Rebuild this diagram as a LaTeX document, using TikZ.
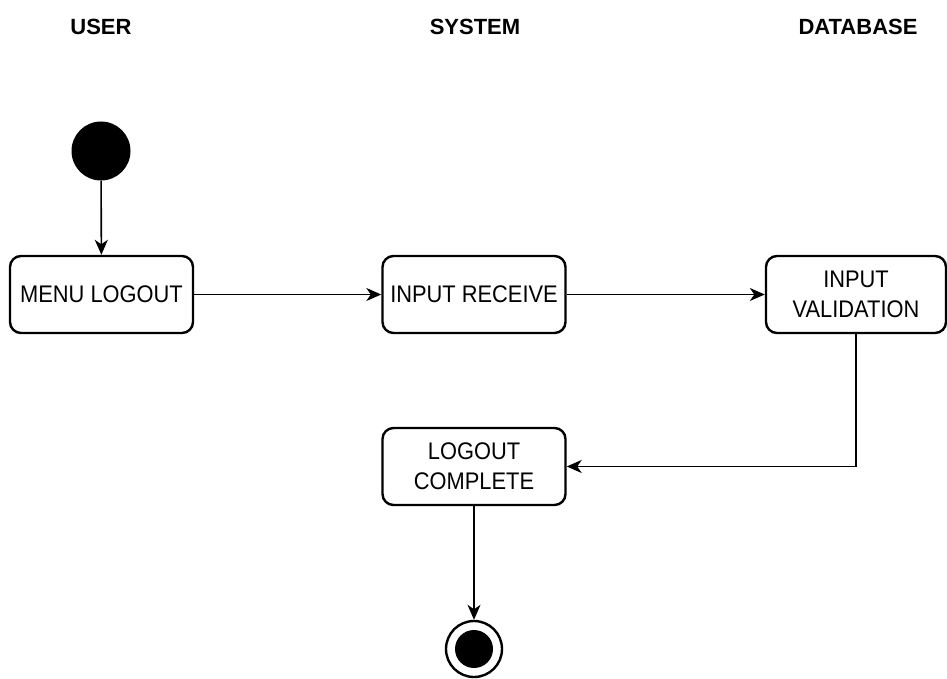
\documentclass[tikz,border=0pt]{standalone}
\usepackage{fontspec}
\setmainfont{Liberation Sans}
\newfontfamily\boxfont{Liberation Sans}[FakeStretch=0.91]
\usetikzlibrary{arrows.meta}

\begin{document}
\begin{tikzpicture}[x=1pt,y=-1pt,
  state/.style={draw, line width=2.4pt, rounded corners=11pt,
    minimum width=183pt, minimum height=77pt, align=center,
    inner sep=0pt, font=\boxfont\fontsize{24}{30}\selectfont},
  lane/.style={font=\bfseries\fontsize{22}{26}\selectfont},
  flow/.style={line width=1.6pt, -{Stealth[length=15pt,width=13pt,inset=4.5pt]}},
]
\useasboundingbox (0,0) rectangle (947,679);

% lane headers
\node[lane] (huser) at (101,27) {USER};
\node[lane] (hsys)  at (475,27) {SYSTEM};
\node[lane] (hdb)   at (858,27) {DATABASE};

% initial state
\node[circle, fill=black, minimum size=59pt, inner sep=0pt] (start) at (101,151) {};

% activities
\node[state] (menu)  at (101.5,294.5) {MENU LOGOUT};
\node[state] (recv)  at (474,294.5) {INPUT RECEIVE};
\node[state, minimum width=180pt] (valid) at (856,294.5) {INPUT\\VALIDATION};
\node[state] (done)  at (474,466.5) {LOGOUT\\COMPLETE};

% final state
\node[circle, draw, line width=2.4pt, minimum size=56pt, inner sep=0pt] (end) at (474,649) {};
\node[circle, fill=black, minimum size=38pt, inner sep=0pt] (endin) at (end) {};

% transitions
\draw[flow] (start) -- (menu);
\draw[flow] (menu) -- (recv);
\draw[flow] (recv) -- (valid);
\draw[flow] (valid.south) |- (done.east);
\draw[flow] (done) -- (end);
\end{tikzpicture}
\end{document}
